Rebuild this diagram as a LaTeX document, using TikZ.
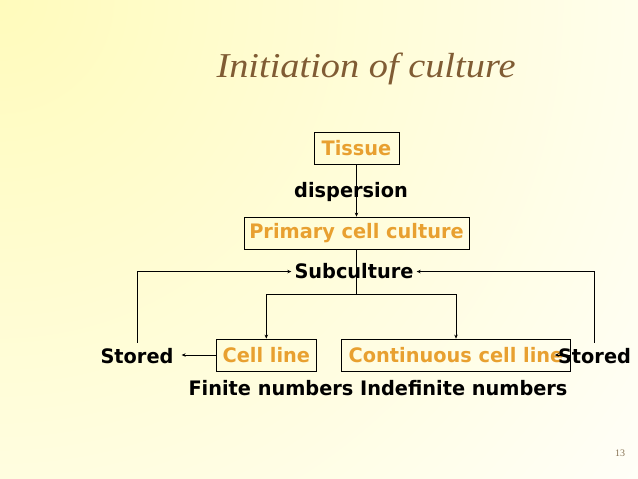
\documentclass[tikz,border=0pt]{standalone}
\usepackage{fontspec}
\usepackage{xcolor}
\newfontfamily\boxfont{DejaVu Sans}[FakeStretch=0.97]
\newfontfamily\titlefont{Liberation Serif}[FakeStretch=1.1]
\newfontfamily\pagefont{Liberation Serif}
\usetikzlibrary{arrows.meta,positioning}
\definecolor{boxorange}{RGB}{232,160,48}
\definecolor{titlebrown}{RGB}{128,92,52}
\definecolor{pagegray}{RGB}{135,115,85}
\definecolor{bgyellow}{RGB}{255,251,188}

\begin{document}
\begin{tikzpicture}[x=1bp,y=1bp,
    stage/.style={draw,line width=0.75pt,text=boxorange,font=\boxfont\bfseries\fontsize{20}{24}\selectfont,minimum height=32bp,inner sep=0pt},
    note/.style={font=\boxfont\bfseries\fontsize{20}{24}\selectfont,inner sep=3bp},
    tip/.style={-{Stealth[length=4bp,width=3.5bp]},line width=0.75pt}]
    % Background
    \useasboundingbox (0,0) rectangle (638,479);
    \begin{scope}
        \clip (0,0) rectangle (638,479);
        \fill[white] (0,0) rectangle (638,479);
        \shade[inner color=bgyellow,outer color=white] (0,479) circle (900);
    \end{scope}
    \node[font=\titlefont\itshape\fontsize{35}{40}\selectfont,text=titlebrown] (title) at (366,410) {Initiation of culture};
    \node[font=\pagefont\fontsize{10}{12}\selectfont,text=pagegray] (page) at (620,25.5) {13};

    % Stages
    \node[stage,minimum width=85bp] (tissue) at (356.5,330.5) {Tissue};
    \node[note,anchor=base] (disp) at (351,281.5) {dispersion};
    \node[stage,minimum width=225bp] (primary) at (356.5,246) {Primary cell culture};
    \node[note,anchor=base] (sub) at (354,200) {Subculture};
    \node[stage,minimum width=100.5bp] (cellline) at (266.3,124) {Cell line};
    \node[stage,minimum width=229bp] (contline) at (456,124) {Continuous cell line};
    \node[note,anchor=base] (storedL) at (137,115) {Stored};
    \node[note,anchor=base] (storedR) at (594.5,115) {Stored};
    \node[note,anchor=base] (numbers) at (378,83) {Finite numbers Indefinite numbers};
    \coordinate (split) at (356.5,185);

    % Connectors
    \draw[tip] (tissue.south) -- (primary.north);
    \draw[line width=0.75pt] (primary.south) -- (split);
    \draw[tip] (split) -| (cellline.north);
    \draw[tip] (split) -| (contline.north);
    \draw[tip] ([yshift=3bp]storedL.north) |- (sub.west);
    \draw[tip] ([yshift=3bp]storedR.north) |- (sub.east);
    \draw[tip,shorten >=5bp] (cellline.west) -- (cellline.west -| storedL.east);
    \draw[tip] (contline.east) -- (contline.east -| storedR.west);
\end{tikzpicture}
\end{document}
